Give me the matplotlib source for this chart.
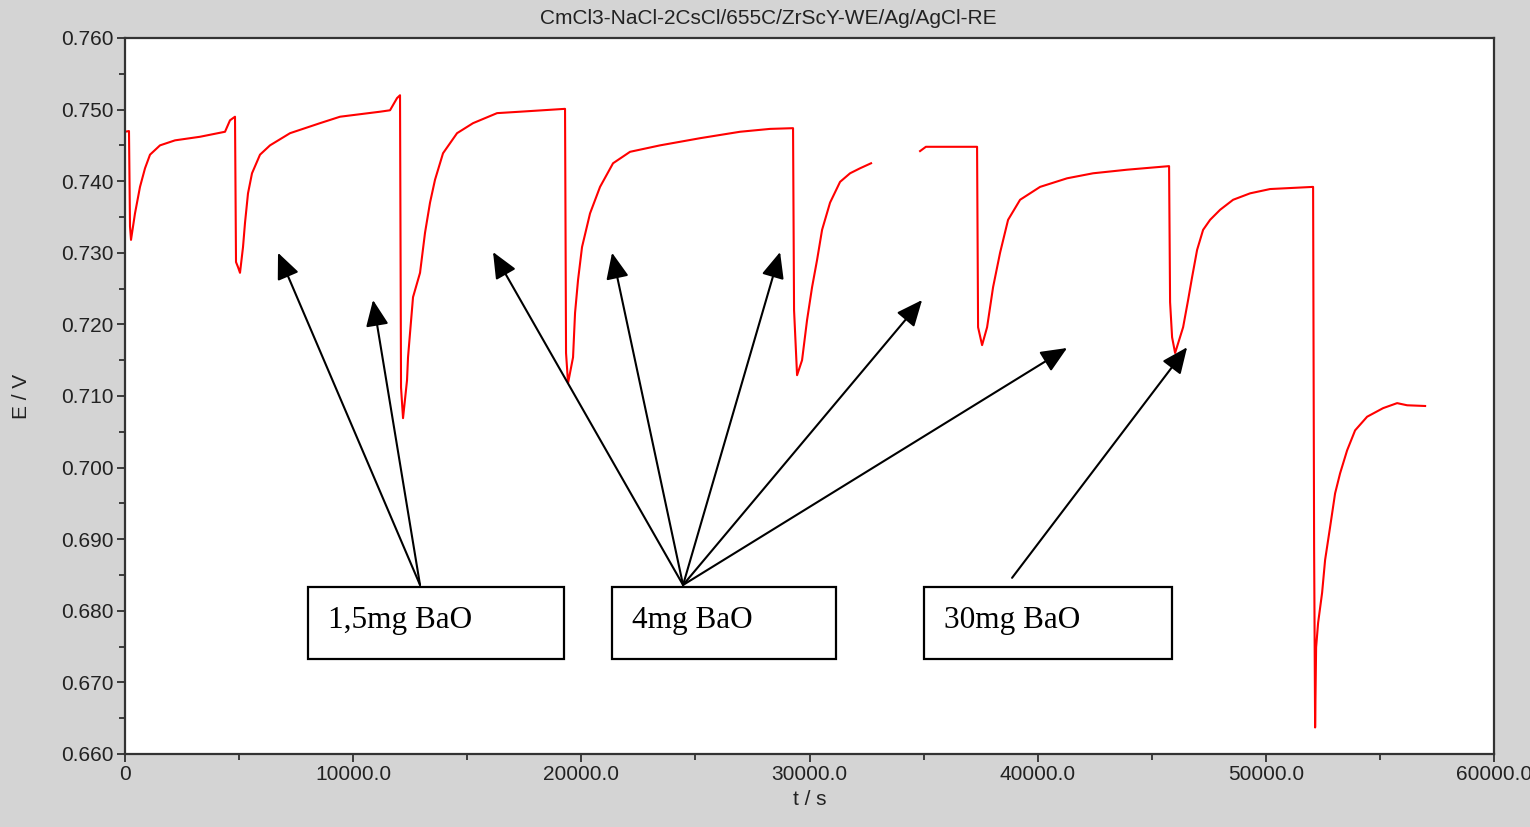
import matplotlib.pyplot as plt
from matplotlib.patches import Rectangle
from matplotlib.ticker import MultipleLocator, FuncFormatter

plt.rcParams['font.family'] = ['Liberation Sans', 'DejaVu Sans']

# Potential vs time, first run (before the gap)
t1 = [0, 175, 219, 263, 438, 657, 877, 1096, 1534, 2192, 3287, 4383, 4602, 4821,
      4865, 4953, 5040, 5172, 5260, 5391, 5566, 5917, 6355, 7232, 8547, 9423, 11177,
      11615, 11922, 12053, 12097, 12185, 12360, 12404, 12492, 12623, 12930, 13149,
      13368, 13587, 13938, 14552, 15253, 16305, 17313, 19285, 19329, 19417, 19636,
      19724, 19855, 20030, 20381, 20819, 21389, 22134, 23449, 25202, 26955, 28270,
      29278, 29322, 29454, 29673, 29892, 30112, 30331, 30550, 30900, 31338, 31777,
      32215, 32697]
E1 = [0.7469, 0.7470, 0.7337, 0.7318, 0.7355, 0.7392, 0.7418, 0.7437, 0.7450, 0.7457,
      0.7462, 0.7469, 0.7485, 0.7490,
      0.7287, 0.7280, 0.7272, 0.7308, 0.7342, 0.7383, 0.7411, 0.7437, 0.7450, 0.7467,
      0.7481, 0.7490, 0.7497,
      0.7499, 0.7516, 0.7520, 0.7112, 0.7069, 0.7122, 0.7154, 0.7188, 0.7238, 0.7272,
      0.7328, 0.7370, 0.7402, 0.7439, 0.7467, 0.7481, 0.7495, 0.7497, 0.7501, 0.7160,
      0.7118, 0.7154, 0.7216, 0.7262, 0.7308, 0.7355, 0.7392, 0.7425, 0.7441, 0.7450,
      0.7460, 0.7469, 0.7473, 0.7474, 0.7220, 0.7129, 0.7150, 0.7206, 0.7252, 0.7290,
      0.7332, 0.7370, 0.7399, 0.7411, 0.7418, 0.7425]

# Second run (after the gap)
t2 = [34845, 35100, 37343, 37387, 37563, 37782, 38045, 38351, 38702, 39228, 40104,
      41288, 42427, 43917, 45758, 45802, 45890, 46022, 46373, 46592, 46767, 46986,
      47249, 47556, 47994, 48564, 49309, 50186, 52070, 52114, 52158, 52202, 52289,
      52464, 52596, 52815, 53034, 53253, 53560, 53911, 54437, 55138, 55752, 56190,
      56979]
E2 = [0.7442, 0.7448, 0.7448, 0.7196, 0.7171, 0.7196, 0.7252, 0.7300, 0.7346, 0.7374,
      0.7392, 0.7404, 0.7411, 0.7416, 0.7421, 0.7231, 0.7182, 0.7160, 0.7196, 0.7234,
      0.7266, 0.7304, 0.7332, 0.7346, 0.7360, 0.7374, 0.7383, 0.7389, 0.7392, 0.6889,
      0.6637, 0.6749, 0.6783, 0.6825, 0.6871, 0.6917, 0.6964, 0.6992, 0.7024, 0.7052,
      0.7071, 0.7083, 0.7090, 0.7087, 0.7086]

labels = ['1,5mg BaO', '4mg BaO', '30mg BaO']

fig = plt.figure(figsize=(15.3, 8.27), dpi=100, facecolor='#d4d4d4')
ax = fig.add_axes([0.0817, 0.0883, 0.8948, 0.8658])
ax.set_facecolor('white')

ax.plot(t1, E1, color='red', lw=1.5)
ax.plot(t2, E2, color='red', lw=1.5)

ax.set_xlim(0, 60000)
ax.set_ylim(0.660, 0.760)
ax.xaxis.set_major_locator(MultipleLocator(10000))
ax.xaxis.set_minor_locator(MultipleLocator(5000))
ax.yaxis.set_major_locator(MultipleLocator(0.010))
ax.yaxis.set_minor_locator(MultipleLocator(0.005))
ax.xaxis.set_major_formatter(FuncFormatter(lambda v, p: '0' if v == 0 else f'{v:.1f}'))
ax.yaxis.set_major_formatter(FuncFormatter(lambda v, p: f'{v:.3f}'))
ax.tick_params(which='major', direction='out', length=6, width=1.2, labelsize=15,
               colors='#222222', pad=2)
ax.tick_params(which='minor', direction='out', length=4, width=1.2, colors='#222222')
for s in ax.spines.values():
    s.set_linewidth(1.6)
    s.set_color('#333333')

ax.set_xlabel('t / s', fontsize=15, color='#222222', labelpad=4)
ax.set_ylabel('E / V', fontsize=15, color='#222222', labelpad=22)
fig.text(0.502, 0.978, 'CmCl3-NaCl-2CsCl/655C/ZrScY-WE/Ag/AgCl-RE', ha='center',
         va='center', fontsize=15, color='#222222')

# annotation boxes
boxes = [(8021, 19241), (21346, 31163), (35020, 45890)]
for (x0, x1), lab in zip(boxes, labels):
    ax.add_patch(Rectangle((x0, 0.6732), x1 - x0, 0.0101, fill=False, lw=1.6,
                           edgecolor='black', zorder=5))
    ax.text(x0 + 877, 0.6786, lab, fontsize=22.5, family='Liberation Serif',
            va='center', ha='left', zorder=6)

arrows = [
    ((12930, 0.6836), [(6706, 0.7300), (10870, 0.7234)]),
    ((24457, 0.6836), [(16130, 0.7301), (21346, 0.7300), (28709, 0.7301),
                       (34933, 0.7234), (41288, 0.7167)]),
    ((38877, 0.6846), [(46548, 0.7168)]),
]
for src, tips in arrows:
    for tip in tips:
        ax.annotate('', xy=tip, xytext=src,
                    arrowprops=dict(arrowstyle='-|>,head_length=0.8,head_width=0.35',
                                    mutation_scale=20, lw=1.5, color='black',
                                    shrinkA=0, shrinkB=0))

fig.savefig('out.png', dpi=100, facecolor=fig.get_facecolor())
